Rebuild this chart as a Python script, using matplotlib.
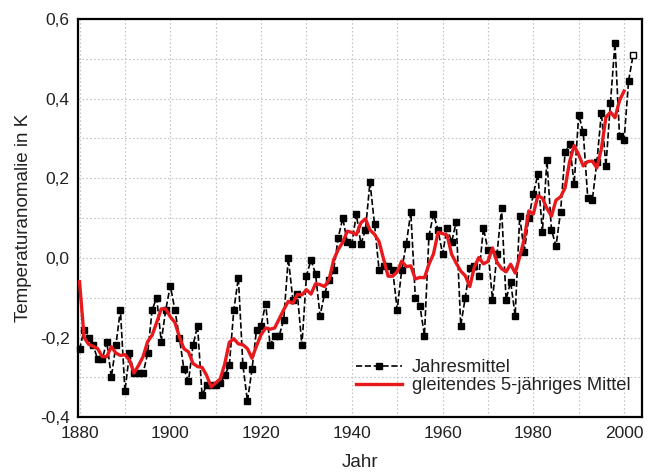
import matplotlib
matplotlib.use("Agg")
import matplotlib.pyplot as plt
from matplotlib.ticker import MultipleLocator, FuncFormatter

plt.rcParams['font.family'] = ['Liberation Sans', 'DejaVu Sans']

# Jahresmittel 1880-2002 (last value preliminary, open marker)
years = list(range(1880, 2003))
annual = [
    -0.23, -0.18, -0.20, -0.22, -0.255, -0.255, -0.21, -0.30, -0.22, -0.13,   # 1880s
    -0.335, -0.24, -0.29, -0.29, -0.29, -0.24, -0.13, -0.10, -0.21, -0.13,    # 1890s
    -0.07, -0.13, -0.20, -0.28, -0.31, -0.22, -0.17, -0.345, -0.32, -0.32,    # 1900s
    -0.32, -0.315, -0.295, -0.27, -0.13, -0.05, -0.27, -0.36, -0.28, -0.18,   # 1910s
    -0.17, -0.115, -0.22, -0.195, -0.195, -0.155, 0.00, -0.105, -0.09, -0.22, # 1920s
    -0.045, -0.005, -0.04, -0.145, -0.09, -0.055, -0.03, 0.05, 0.10, 0.04,    # 1930s
    0.035, 0.11, 0.035, 0.07, 0.19, 0.085, -0.03, -0.02, -0.02, -0.03,        # 1940s
    -0.13, -0.03, 0.035, 0.115, -0.10, -0.12, -0.195, 0.055, 0.11, 0.07,      # 1950s
    0.01, 0.075, 0.04, 0.09, -0.17, -0.10, -0.025, -0.02, -0.045, 0.075,      # 1960s
    0.02, -0.105, 0.01, 0.125, -0.105, -0.06, -0.145, 0.105, 0.015, 0.10,     # 1970s
    0.16, 0.21, 0.065, 0.245, 0.07, 0.03, 0.115, 0.265, 0.285, 0.185,         # 1980s
    0.36, 0.315, 0.15, 0.145, 0.24, 0.365, 0.23, 0.39, 0.54, 0.305,           # 1990s
    0.295, 0.445, 0.51,                                                       # 2000s
]

# gleitendes 5-jaehriges Mittel
smooth_years = list(range(1880, 2001))
smooth = [
    -0.06, -0.20, -0.217, -0.222, -0.228, -0.248, -0.248, -0.223, -0.239, -0.245,
    -0.243, -0.257, -0.289, -0.27, -0.248, -0.21, -0.194, -0.162, -0.128, -0.128,
    -0.148, -0.162, -0.198, -0.228, -0.236, -0.265, -0.273, -0.275, -0.295, -0.324,
    -0.314, -0.304, -0.266, -0.212, -0.203, -0.216, -0.218, -0.228, -0.252, -0.221,
    -0.193, -0.176, -0.179, -0.176, -0.153, -0.13, -0.109, -0.114, -0.092, -0.093,
    -0.08, -0.091, -0.065, -0.067, -0.072, -0.054, -0.005, 0.021, 0.039, 0.067,
    0.064, 0.058, 0.088, 0.098, 0.07, 0.059, 0.041, -0.003, -0.046, -0.046,
    -0.035, -0.008, -0.022, -0.02, -0.053, -0.049, -0.05, -0.016, 0.01, 0.064,
    0.061, 0.057, 0.009, -0.013, -0.033, -0.045, -0.072, -0.023, 0.001, -0.015,
    -0.009, 0.025, -0.011, -0.027, -0.035, -0.016, -0.038, 0.003, 0.047, 0.118,
    0.11, 0.156, 0.15, 0.124, 0.105, 0.145, 0.153, 0.176, 0.242, 0.282,
    0.259, 0.231, 0.242, 0.243, 0.226, 0.274, 0.353, 0.366, 0.352, 0.395,
    0.419,
]

text_col = '#222222'

fig = plt.figure(figsize=(6.56, 4.73), dpi=100)
ax = fig.add_axes([0.119, 0.118, 0.86, 0.842])

# annual means, dashed black with squares
ax.plot(years[:-1], annual[:-1], color='black', linestyle='--', linewidth=1.2,
        marker='s', markersize=4.5, label='Jahresmittel', zorder=3, clip_on=False)
ax.plot(years[-2:], annual[-2:], color='black', linestyle='--', linewidth=1.2, zorder=3)
ax.plot(years[-1:], annual[-1:], linestyle='none', marker='s', markersize=5,
        markerfacecolor='white', markeredgecolor='black', markeredgewidth=1, zorder=4)

# 5-year moving average
ax.plot(smooth_years, smooth, color='#e8191c', linewidth=2.4,
        label='gleitendes 5-jähriges Mittel', zorder=5)

ax.set_xlim(1879.67, 2004.0)
ax.set_ylim(-0.4, 0.6)
ax.xaxis.set_major_locator(MultipleLocator(20))
ax.xaxis.set_minor_locator(MultipleLocator(10))
ax.yaxis.set_major_locator(MultipleLocator(0.2))
ax.yaxis.set_minor_locator(MultipleLocator(0.1))
ax.yaxis.set_major_formatter(FuncFormatter(lambda v, p: f"{v:.1f}".replace('.', ',').replace('-0,0', '0,0')))

ax.grid(which='both', color='#c4c4c4', linestyle=(0, (1.5, 2)), linewidth=0.8)
ax.set_axisbelow(True)
ax.tick_params(which='both', length=0, labelsize=12.5, pad=6, labelcolor=text_col)

for s in ax.spines.values():
    s.set_linewidth(1.6)

ax.set_xlabel('Jahr', fontsize=13.5, labelpad=10, color=text_col)
ax.set_ylabel('Temperaturanomalie in K', fontsize=13.5, labelpad=6, color=text_col)

leg = ax.legend(loc='lower right', bbox_to_anchor=(1.0, 0.028), frameon=False,
                fontsize=13.2, handlelength=2.5, handletextpad=0.55,
                labelspacing=0.05, numpoints=1, borderaxespad=0.25)
for t in leg.get_texts():
    t.set_color(text_col)

plt.savefig('out.png', dpi=100)
